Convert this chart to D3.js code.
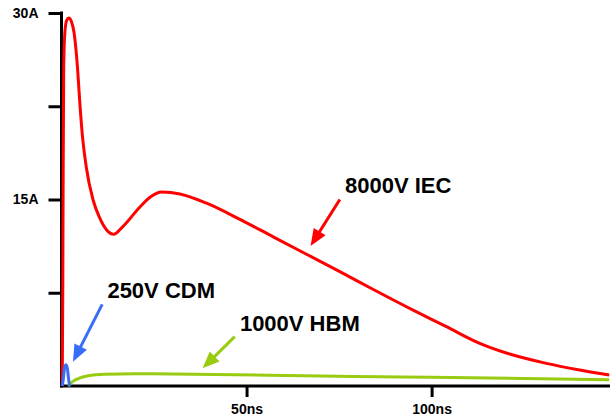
<!DOCTYPE html>
<html>
<head>
<meta charset="utf-8">
<script src="https://cdn.jsdelivr.net/npm/d3@7"></script>
<style>
  body { margin: 0; background: #fff; }
  svg text { font-family: "Liberation Sans", Arial, sans-serif; font-weight: bold; }
</style>
</head>
<body>
<div id="chart"></div>
<script>
// time in ns, current in A
var iecTime    = [0.2, 0.35, 0.45, 0.6, 0.9, 1.4, 2.0, 2.7, 3.4, 4.3, 4.9, 5.6, 6.7, 8.5, 10.2, 12.2, 14.1, 16.5, 21.2, 24.0, 27.1, 32, 39.2, 48.2, 57.2, 66.2, 75.2, 84, 95, 104, 113, 122, 131, 140, 148];
var iecCurrent = [0, 8, 17, 25.7, 28.4, 29.4, 29.6, 29.3, 28.4, 25.7, 23.0, 20.3, 17.6, 15.0, 13.6, 12.55, 12.2, 12.8, 14.4, 15.2, 15.6, 15.45, 14.7, 13.4, 12.0, 10.6, 9.2, 7.8, 6.1, 4.77, 3.43, 2.49, 1.82, 1.29, 0.88];

var hbmTime    = [1.8, 3.0, 5.0, 7.2, 11.7, 20, 30, 47, 70, 86, 100, 125, 148];
var hbmCurrent = [0, 0.35, 0.65, 0.82, 0.94, 0.98, 0.97, 0.9, 0.8, 0.75, 0.7, 0.6, 0.5];

var cdmTime    = [0.2, 0.5, 0.8, 1.2, 1.6, 1.9, 2.2];
var cdmCurrent = [0, 0.6, 1.4, 1.7, 1.4, 0.6, 0];

var yTicks = [7.5, 15, 22.5, 30];
var yLabels = { 15: "15A", 30: "30A" };
var xTicks = [50, 100];
var xLabels = { 50: "50ns", 100: "100ns" };

// labels and arrows, in data units
var notes = [
  { text: "8000V IEC", color: "#ff0000", tx: 76.6, ty: 15.5, fx: 75.2, fy: 15.0, px: 67.3, py: 11.26 },
  { text: "250V CDM",  color: "#3a6df7", tx: 12.4, ty: 7.06, fx: 11.0, fy: 6.57, px: 3.1,  py: 1.95 },
  { text: "1000V HBM", color: "#99cc11", tx: 48.2, ty: 4.45, fx: 46.8, fy: 3.97, px: 38.1, py: 1.42 }
];

var width = 610, height = 419;
var padLeft = 61.5, padTop = 13, baseY = 386;

var svg = d3.select("#chart").append("svg")
  .attr("width", width)
  .attr("height", height);

var x = d3.scaleLinear().domain([0, 148.2]).range([padLeft, width]);
var y = d3.scaleLinear().domain([0, 30]).range([baseY, padTop]);

// axes
var yAxis = d3.axisLeft(y).tickValues(yTicks).tickSize(13)
  .tickFormat(function(d) { return yLabels[d] || ""; });
var gy = svg.append("g").attr("transform", "translate(" + padLeft + ",0)").call(yAxis);
gy.select(".domain").remove();
gy.append("line").attr("x1", 0).attr("x2", 0).attr("y1", y(30) - 1.5).attr("y2", baseY + 1.5)
  .attr("stroke", "#000").attr("stroke-width", 3);
gy.selectAll(".tick line").attr("stroke", "#000").attr("stroke-width", 3);
gy.selectAll(".tick text").attr("x", -23).attr("font-size", 14).attr("fill", "#000");

var xAxis = d3.axisBottom(x).tickValues(xTicks).tickSize(11)
  .tickFormat(function(d) { return xLabels[d] || ""; });
var gx = svg.append("g").attr("transform", "translate(0," + baseY + ")").call(xAxis);
gx.select(".domain").remove();
gx.append("line").attr("x1", padLeft - 1.5).attr("x2", width).attr("y1", 0).attr("y2", 0)
  .attr("stroke", "#000").attr("stroke-width", 3);
gx.selectAll(".tick line").attr("stroke", "#000").attr("stroke-width", 3);
gx.selectAll(".tick text").attr("y", 18).attr("font-size", 14).attr("fill", "#000");

// curves
var line = d3.line()
  .x(function(d) { return x(d[0]); })
  .y(function(d) { return y(d[1]); })
  .curve(d3.curveMonotoneX);

function draw(ts, vs, color) {
  svg.append("path")
    .datum(d3.zip(ts, vs))
    .attr("d", line)
    .attr("fill", "none")
    .attr("stroke", color)
    .attr("stroke-width", 3)
    .attr("stroke-linejoin", "round");
}
draw(hbmTime, hbmCurrent, "#99cc11");
draw(iecTime, iecCurrent, "#ff0000");
draw(cdmTime, cdmCurrent, "#3a6df7");

// annotations
notes.forEach(function(n) {
  var x1 = x(n.fx), y1 = y(n.fy), x2 = x(n.px), y2 = y(n.py);
  var dx = x2 - x1, dy = y2 - y1, len = Math.sqrt(dx * dx + dy * dy);
  var ux = dx / len, uy = dy / len;
  var head = 17, half = 7;
  var bx = x2 - ux * head, by = y2 - uy * head;
  svg.append("line")
    .attr("x1", x1).attr("y1", y1).attr("x2", bx + ux * 2).attr("y2", by + uy * 2)
    .attr("stroke", n.color).attr("stroke-width", 3);
  svg.append("path")
    .attr("d", "M" + x2 + "," + y2 +
      "L" + (bx - uy * half) + "," + (by + ux * half) +
      "L" + (bx + uy * half) + "," + (by - ux * half) + "Z")
    .attr("fill", n.color);
  svg.append("text")
    .attr("x", x(n.tx)).attr("y", y(n.ty))
    .attr("font-size", 22)
    .attr("fill", "#000")
    .text(n.text);
});
</script>
</body>
</html>
